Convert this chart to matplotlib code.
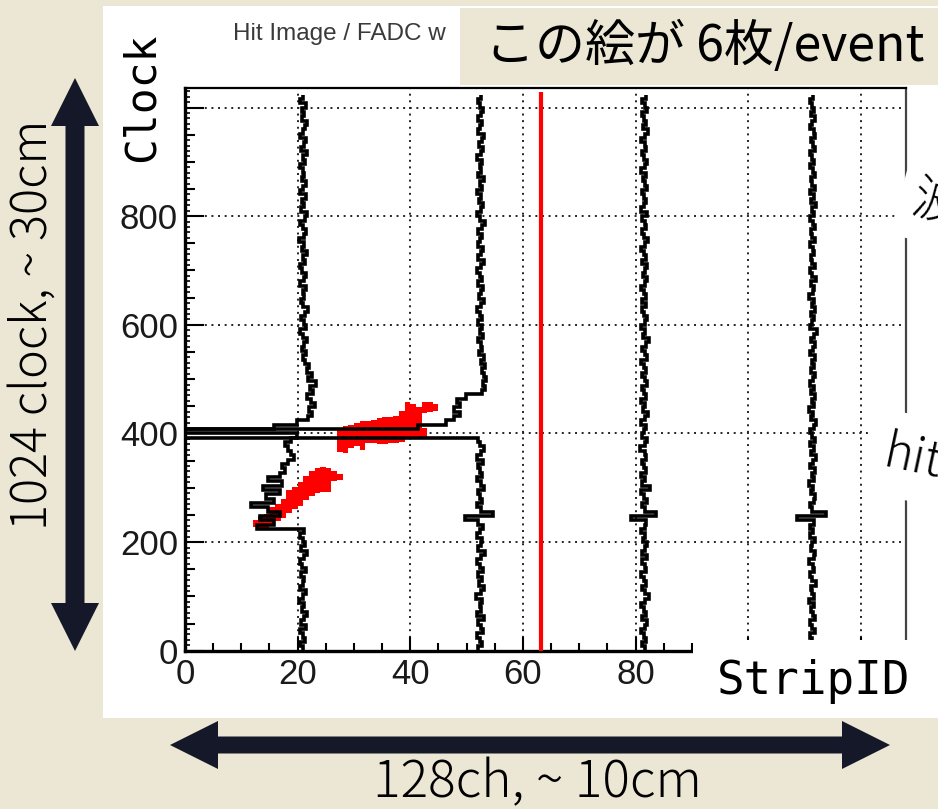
import numpy as np
import matplotlib
matplotlib.use("Agg")
import matplotlib.pyplot as plt
from matplotlib.patches import Rectangle, FancyArrow
from matplotlib.ticker import MultipleLocator, NullFormatter

plt.rcParams['font.family'] = ['Liberation Sans', 'DejaVu Sans']

W, H = 938, 809
BG = '#EBE7D4'
NAVY = '#141828'
JP = ['Noto Sans CJK JP', 'DejaVu Sans']
MONO = ['DejaVu Sans Mono']

# ---- FADC waveforms: one value per 8-clock bin, in strip units around each wire
clock_edges = np.arange(0, 1025, 8)
wave_strips = [20.8, 52.3, 81.4, 111.3]

wave_a = [0.2, -0.4, 0.5, 0.1, -0.3, 0.6, -0.2, 0.3, 0.9, -0.1, 0.4, -0.5, 0.2, 0.7, -0.3, 0.1,
          0.4, -0.2, 0.6, 0.0, -0.4, 0.3, 0.8, -0.2, 0.5, 0.1, -0.3, 0.4,
          -8.0, -5.0, -7.5, -4.0, -6.0, -9.0, -5.0, -6.5, -4.0, -7.0, -3.5, -6.0, -4.0,
          -3.0, -3.5, -2.5, -1.5, -2.0, -2.5, -3.0, -2.0, -1.0, -30.0, -5.0, -1.0, 1.0,
          1.8, 1.2, 2.3, 1.5, 0.9, 2.0, 1.4, 2.4, 1.1, 1.7, 0.8, 1.3,
          0.5, 0.2, 0.7, -0.1, 0.4, 0.9, 0.1, -0.3, 0.6, 0.3, -0.2, 0.5, 1.0, 0.2,
          -0.2, 0.4, 0.1, 0.6, -0.4, 0.3, 0.7, 0.0, -0.3, 0.5, 0.2, 0.8, -0.1, 0.4, -0.5, 0.3,
          0.6, 0.1, -0.3, 0.5, 0.9, -0.2, 0.3, 0.0, 0.6, -0.4, 0.2, 0.7, -0.1, 0.4, 0.1, -0.3,
          0.5, 0.2, 0.8, -0.2, 0.3, 0.6, -0.4, 0.1, 0.5, 0.9, -0.1, 0.3, 0.0, 0.6, -0.3, 0.2]

wave_b = [-0.3, 0.4, 0.1, -0.5, 0.6, 0.2, -0.2, 0.8, -0.4, 0.3, 0.0, 0.5, -0.6, 0.2, 0.7, -0.1,
          0.4, -0.3, 0.6, 0.1, -0.5, 0.3, 0.9, -0.2, 0.2, 0.5, -0.4, 0.1, 0.6, -0.2,
          -2.6, 2.4,
          0.3, -0.4, 0.5, 0.0, -0.3, 0.7, 0.2, -0.5, 0.4, 0.1, -0.2, 0.6, -0.4, 0.3, 0.8, 0.1, -0.3,
          -60.0, -60.0, -11.0, -6.0, -4.5, -3.5, -4.5, -3.5, -4.0, -2.5,
          0.5, 1.0, 0.6, 1.2, 0.8, 0.4, 1.0, 0.3, 0.7, -0.1, 0.5, 0.2, -0.3, 0.6, 0.1, 0.4, -0.2,
          0.5, 0.0, -0.4, 0.3, 0.7, -0.1, 0.2, 0.6, -0.3, 0.4, 0.1, -0.5, 0.3, 0.8, -0.2, 0.2,
          0.6, -0.3, 0.1, 0.5, -0.2, 0.4, 0.9, 0.0, -0.4, 0.3, 0.6, -0.1, 0.2, -0.5, 0.4, 0.1,
          0.7, -0.2, 0.3, 0.0, 0.5, -0.4, 0.2, 0.6, -0.1, 0.4, 0.8, -0.3, 0.1, 0.5, -0.2, 0.3,
          0.6, 0.0, -0.3, 0.2]

wave_c = [0.3, -0.2, 0.5, 0.1, -0.4, 0.2, 0.7, -0.3, 0.4, 0.0, -0.5, 0.3, 0.9, 0.2, -0.3, 0.4,
          0.1, -0.4, 0.5, 0.2, -0.2, 0.6, -0.3, 0.2, 0.7, -0.1, 0.3, -0.5, 0.2, 0.5,
          -2.3, 2.2,
          0.2, -0.3, 0.6, 0.0, -0.4, 1.1, -0.2, 0.3, -0.5, 0.4, 0.1, -0.3, 0.5, 0.2, -0.6, 0.3,
          0.6, -0.2, 0.1, 0.4, -0.4, 0.3, 0.8, -0.1, 0.2, -0.5, 0.5, 0.0, -0.3, 0.7, 0.2, -0.2,
          0.4, 0.1, -0.4, 0.6, 0.2, -0.3, 0.5, 0.9, -0.1, 0.3, -0.5, 0.2, 0.6, 0.0, -0.3, 0.4,
          -0.2, 0.5, 0.1, -0.4, 0.3, 0.7, -0.1, 0.2, 0.6, -0.3, 0.4, 0.0, -0.5, 0.3, 0.8, 0.1,
          -0.3, 0.4, 0.2, -0.2, 0.6, -0.4, 0.1, 0.5, 0.0, -0.3, 0.7, 0.2, -0.1, 0.4, -0.5, 0.3,
          0.6, 0.1, -0.2, 0.5, 0.2, -0.4, 0.3, 0.8, -0.1, 0.4, 0.0, -0.3, 0.6, 0.2, -0.2, 0.4]

wave_d = [-0.2, 0.4, 0.1, -0.3, 0.5, 0.0, -0.4, 0.6, 0.2, -0.1, 0.3, -0.5, 0.4, 0.1, -0.2, 0.7,
          0.0, -0.3, 0.4, 0.2, -0.5, 0.3, 0.6, -0.2, 0.1, 0.5, -0.3, 0.2, -0.4, 0.3,
          -2.6, 2.5,
          0.1, -0.4, 0.3, 0.5, -0.2, 0.2, -0.5, 0.4, 0.0, 0.6, -0.3, 0.2, 0.8, -0.1, 0.3, -0.4,
          0.5, 0.1, -0.3, 0.4, 0.7, -0.2, 0.2, -0.5, 0.3, 0.0, 0.6, -0.1, 0.4, -0.4, 0.2, 0.5,
          -0.2, 0.3, 0.0, 0.6, -0.4, 0.2, 0.5, -0.1, 0.3, 0.9, -0.3, 0.1, 0.4, -0.2, 0.6, 0.0,
          0.3, -0.5, 0.2, 0.4, -0.1, 0.7, 0.1, -0.3, 0.5, 0.0, -0.2, 0.4, 0.2, -0.4, 0.6, 0.1,
          -0.1, 0.5, 0.2, -0.3, 0.4, 0.0, 0.7, -0.2, 0.3, -0.4, 0.5, 0.1, -0.2, 0.6, 0.2, -0.3,
          0.4, 0.0, -0.4, 0.5, 0.2, -0.1, 0.6, 0.3, -0.3, 0.1, 0.5, -0.2, 0.4, 0.0, -0.3, 0.2]

waves = [wave_a, wave_b, wave_c, wave_d]

# ---- hit image: clock span fired on each strip
hit_strips = [12, 13, 14, 15, 16, 17, 18, 19, 20, 21, 22, 23, 24, 25, 26, 27,
              27, 28, 29, 30, 31, 32, 33, 34, 35, 36, 37, 38, 39, 40, 41, 42, 42, 43, 44]
hit_clock_lo = [228, 222, 226, 232, 238, 244, 254, 260, 266, 278, 284, 290, 292, 292, 312, 314,
                366, 364, 374, 376, 370, 382, 382, 380, 380, 382, 382, 384, 390, 392, 394, 390, 438, 440, 442]
hit_clock_hi = [240, 248, 252, 264, 270, 280, 296, 302, 310, 322, 330, 336, 338, 336, 330, 326,
                406, 414, 416, 420, 422, 422, 424, 428, 430, 430, 432, 442, 458, 454, 448, 410, 458, 458, 454]

boundary_strip = 63.2
boundary_top = 1028

# ticks; the labels under the pasted axis titles are left blank
x_ticks = [0, 20, 40, 60, 80, 100, 120]
x_labels = ['0', '20', '40', '60', '80', '', '']
y_ticks = [0, 200, 400, 600, 800, 1000]
y_labels = ['0', '200', '400', '600', '800', '']
x_range = (0, 128)
y_range = (0, 1036)

fig = plt.figure(figsize=(W / 100, H / 100), dpi=100)
fig.patch.set_facecolor(BG)

# background layer: white screenshot area and its (cropped) title
bg = fig.add_axes([0, 0, 1, 1], zorder=0)
bg.set_xlim(0, W); bg.set_ylim(H, 0); bg.axis('off')
bg.add_patch(Rectangle((103, 6), W - 103, 712, fc='white', ec='none'))
bg.text(233, 34, 'Hit Image / FADC w', ha='left', va='center',
        fontsize=17.5, color='#3a3a3a')

# ---- chart
ax = fig.add_axes([185 / W, (H - 650.7) / H, 721 / W, 562.7 / H], zorder=1)
ax.set_facecolor('white')
ax.set_xlim(*x_range)
ax.set_ylim(*y_range)

ax.bar(hit_strips, np.subtract(hit_clock_hi, hit_clock_lo), bottom=hit_clock_lo,
       width=1, align='edge', color='#FF0000', lw=0, zorder=2)

for base, wave in zip(wave_strips, waves):
    ax.stairs(np.add(base, wave), clock_edges, orientation='horizontal',
              baseline=None, color='black', lw=2.6, zorder=3)

ax.vlines(boundary_strip, 0, boundary_top, color='#FF0000', lw=3, zorder=3)

ax.set_xticks(x_ticks, x_labels)
ax.set_yticks(y_ticks, y_labels)
ax.xaxis.set_minor_locator(MultipleLocator(5))
ax.yaxis.set_minor_locator(MultipleLocator(50))
ax.grid(True, which='major', color='#222222', lw=1.4, ls=(0, (1, 2.4)), zorder=1)
ax.set_axisbelow(True)
ax.tick_params(which='both', direction='in', top=False, right=False, width=1.5, color='black')
ax.tick_params(axis='x', which='major', length=10, labelsize=25, pad=5, labelcolor='#1a1a1a')
ax.tick_params(axis='x', which='minor', length=6)
ax.tick_params(axis='y', which='major', length=14, labelsize=25, pad=5, labelcolor='#1a1a1a')
ax.tick_params(axis='y', which='minor', length=7)
for side, lw, col in [('left', 2.4, 'black'), ('bottom', 2.4, 'black'),
                      ('top', 1.6, 'black'), ('right', 1.6, '#444444')]:
    ax.spines[side].set_linewidth(lw)
    ax.spines[side].set_color(col)

sec = ax.secondary_yaxis('left')
sec.set_yticks(np.arange(0, 1031, 10))
sec.yaxis.set_major_formatter(NullFormatter())
sec.tick_params(direction='in', length=3.5, width=1.2)
sec.spines['left'].set_visible(False)

# ---- slide annotations
ov = fig.add_axes([0, 0, 1, 1], zorder=2)
ov.set_xlim(0, W); ov.set_ylim(H, 0); ov.axis('off')
ov.patch.set_alpha(0)

ov.add_patch(Rectangle((460, 8), W - 460, 77, fc=BG, ec='none'))
ov.text(485, 47, 'この絵が 6枚/event', ha='left', va='center', fontsize=36,
        family=JP, color='black')

# axis titles pasted over the screenshot
ov.add_patch(Rectangle((106, 22), 72, 150, fc='white', ec='none'))
ov.text(142, 97, 'Clock', rotation=90, ha='center', va='center', fontsize=31,
        family=MONO, color='black')

ov.add_patch(Rectangle((693, 640), W - 693, 78, fc='white', ec='none'))
ov.text(814, 682, 'StripID', ha='center', va='center', fontsize=33,
        family=MONO, color='black')

ov.text(912, 200, '波形', rotation=-15, ha='left', va='center', rotation_mode='anchor',
        fontsize=36, family=JP, weight='light', color='black',
        bbox=dict(boxstyle='round,pad=0.25', fc='white', ec='none'))
ov.text(884, 452, 'hit', rotation=-12, ha='left', va='center', rotation_mode='anchor',
        fontsize=35, family=JP, weight='light', style='italic', color='black',
        bbox=dict(boxstyle='round,pad=0.35', fc='white', ec='none'))

# double arrows
for (x0, y0, dx, dy) in [(75, 365, 0, -287), (75, 365, 0, 286),
                         (530, 745, -360, 0), (530, 745, 360, 0)]:
    w = 19 if dx == 0 else 17
    ov.add_patch(FancyArrow(x0, y0, dx, dy, width=w, head_width=48, head_length=48,
                            length_includes_head=True, fc=NAVY, ec='none'))

ov.text(33, 325, '1024 clock, ~ 30cm', rotation=90, ha='center', va='center',
        fontsize=35, family=JP, weight='light', color='black')
ov.text(537, 783, '128ch, ~ 10cm', ha='center', va='center', fontsize=37,
        family=JP, weight='light', color='black')

fig.savefig('out.png', dpi=100, facecolor=BG)
